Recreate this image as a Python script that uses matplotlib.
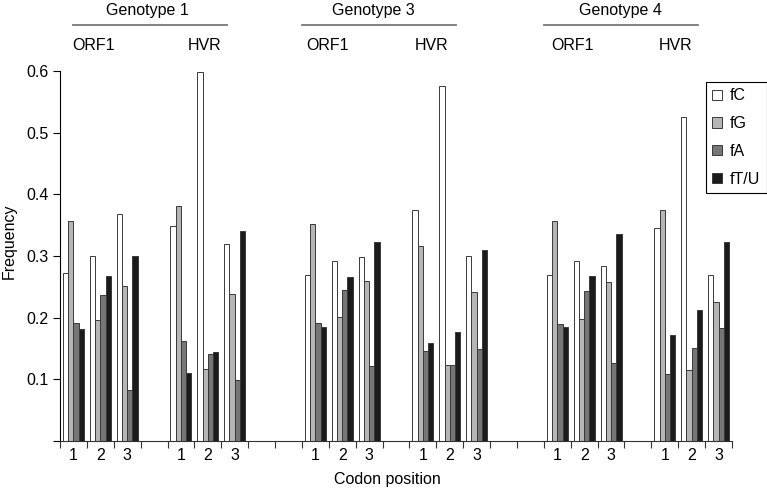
import matplotlib.pyplot as plt
import matplotlib.transforms as mtransforms
import numpy as np

plt.rcParams['font.family'] = ['Liberation Sans', 'DejaVu Sans']

# Data
genotypes = ['Genotype 1', 'Genotype 3', 'Genotype 4']
regions = ['ORF1', 'HVR']
codon_labels = ['1', '2', '3', '1', '2', '3',
                '1', '2', '3', '1', '2', '3',
                '1', '2', '3', '1', '2', '3']
series_names = ['fC', 'fG', 'fA', 'fT/U']

fC = [0.272, 0.300, 0.368, 0.349, 0.598, 0.319,
      0.270, 0.292, 0.298, 0.375, 0.575, 0.300,
      0.270, 0.292, 0.283, 0.345, 0.525, 0.270]
fG = [0.356, 0.196, 0.251, 0.381, 0.117, 0.238,
      0.352, 0.201, 0.260, 0.317, 0.124, 0.241,
      0.356, 0.198, 0.258, 0.375, 0.115, 0.225]
fA = [0.191, 0.236, 0.083, 0.162, 0.141, 0.099,
      0.191, 0.245, 0.122, 0.146, 0.124, 0.149,
      0.190, 0.243, 0.126, 0.109, 0.151, 0.183]
fT = [0.181, 0.268, 0.300, 0.111, 0.144, 0.341,
      0.185, 0.266, 0.322, 0.159, 0.177, 0.309,
      0.185, 0.268, 0.335, 0.172, 0.213, 0.322]

# layout: category slots (empty slots between regions / genotypes)
slots = np.array([0, 1, 2, 4, 5, 6, 9, 10, 11, 13, 14, 15, 18, 19, 20, 22, 23, 24])
n_slots = 25
colors = ['white', '#b5b5b5', '#767676', '#1b1b1b']
bar_w = 0.195

fig = plt.figure(figsize=(7.67, 4.95), dpi=100)
ax = fig.add_axes([60 / 767, 54 / 495, 672 / 767, 370 / 495])

for k, vals in enumerate([fC, fG, fA, fT]):
    ax.bar(slots + (k - 1.5) * bar_w, vals, width=bar_w, color=colors[k],
           edgecolor='#3a3a3a', linewidth=0.7, label=series_names[k])

ax.set_xlim(-0.5, n_slots - 0.5)
ax.set_ylim(0, 0.6)
ax.set_yticks([0, 0.1, 0.2, 0.3, 0.4, 0.5, 0.6])
ax.set_yticklabels(['', '0.1', '0.2', '0.3', '0.4', '0.5', '0.6'])
ax.set_xticks(np.arange(-0.5, n_slots, 1.0))
ax.set_xticklabels([])
ax.set_xticks(slots, minor=True)
ax.set_xticklabels(codon_labels, minor=True)
ax.tick_params(axis='x', which='minor', length=0, pad=5, labelsize=11.5)
ax.tick_params(axis='x', which='major', length=5, width=0.8, color='#333333')
ax.tick_params(axis='y', length=5, width=0.8, pad=3, labelsize=11.5)

for s in ['top', 'right']:
    ax.spines[s].set_visible(False)
ax.spines['left'].set_linewidth(0.8)
ax.spines['bottom'].set_linewidth(0.8)
ax.spines['bottom'].set_color('#333333')

ax.set_ylabel('Frequency', fontsize=11.5)
ax.yaxis.set_label_coords(-0.064, 0.54)
ax.set_xlabel('Codon position', fontsize=11.5)
ax.xaxis.set_label_coords(0.487, -0.085)

# headers above the plot
trans = mtransforms.blended_transform_factory(ax.transData, fig.transFigure)
group_start = [0, 9, 18]
line_span = [(-0.03, 5.7), (-0.51, 5.23), (-0.48, 5.25)]
title_x = [2.76, 2.17, 2.34]
orf_x = [0.76, 0.47, 0.55]
hvr_x = [4.86, 4.33, 4.41]
for g, name in enumerate(genotypes):
    s0 = group_start[g]
    ax.text(s0 + title_x[g], 1 - 11 / 495, name, transform=trans,
            ha='center', va='center', fontsize=11.5)
    ax.plot([s0 + line_span[g][0], s0 + line_span[g][1]], [1 - 24.5 / 495] * 2,
            transform=trans, color='#777777', lw=1.3, clip_on=False)
    ax.text(s0 + orf_x[g], 1 - 46 / 495, regions[0], transform=trans,
            ha='center', va='center', fontsize=11.5)
    ax.text(s0 + hvr_x[g], 1 - 46 / 495, regions[1], transform=trans,
            ha='center', va='center', fontsize=11.5)

leg = ax.legend(loc='upper right', bbox_to_anchor=(766.5 / 767, 1 - 82 / 495),
                bbox_transform=fig.transFigure, fontsize=11.5, fancybox=False,
                framealpha=1, edgecolor='black', handlelength=0.6,
                handleheight=0.6, handletextpad=0.5, labelspacing=0.8,
                borderpad=0.4, borderaxespad=0)
leg.get_frame().set_linewidth(0.8)

fig.savefig('out.png', dpi=100)
